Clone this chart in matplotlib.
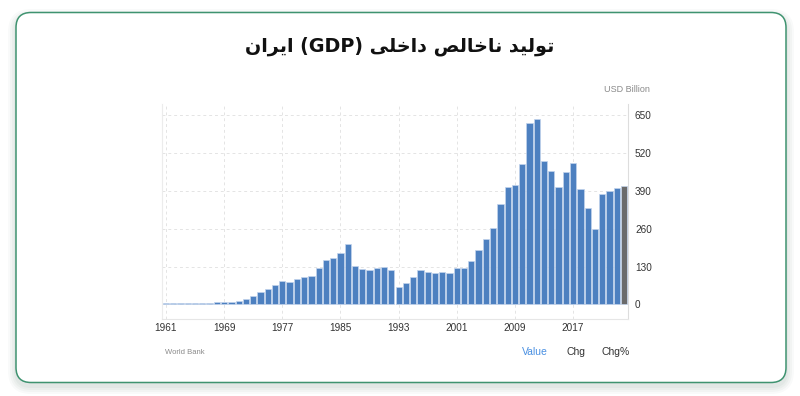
import numpy as np
import matplotlib.pyplot as plt
from matplotlib.patches import FancyBboxPatch

# Iran GDP, USD billion (World Bank), last bar is forecast
years = list(range(1961, 2025))
gdp = [5, 5, 5, 5, 6, 6, 6, 7, 10, 10,
       13, 17, 28, 44, 52, 67, 79, 77, 87, 93,
       97, 124, 152, 160, 178, 206, 131, 121, 118, 124,
       128, 118, 61, 72, 93, 118, 111, 109, 111, 109,
       126, 126, 148, 186, 225, 263, 345, 402, 410, 481,
       624, 638, 493, 458, 404, 454, 484, 395, 330, 259,
       379, 389, 400, 408]
yticks = [0, 130, 260, 390, 520, 650]
xticks = [1961, 1969, 1977, 1985, 1993, 2001, 2009, 2017]

# title "تولید ناخالص داخلی (GDP) ایران" written in shaped, visual order
w_iran = "\uFEE5\uFE8D\uFEAE\uFEF3\uFE8D"
w_dakheli = "\uFEF0\uFEE0\uFEA7\uFE8D\uFEA9"
w_nakhales = "\uFEBA\uFEDF\uFE8E\uFEA7\uFE8E\uFEE7"
w_tolid = "\uFEAA\uFEF4\uFEDF\uFEEE\uFE97"
title = w_iran + " (GDP) " + w_dakheli + " " + w_nakhales + " " + w_tolid

fig = plt.figure(figsize=(8, 3.96), dpi=100)

# card background, in pixel coordinates
bg = fig.add_axes([0, 0, 1, 1])
bg.set_xlim(0, 800)
bg.set_ylim(396, 0)
bg.axis('off')
for i, a in enumerate([0.025, 0.03, 0.035, 0.04]):
    s = 8 - i * 2
    bg.add_patch(FancyBboxPatch((16 - s, 14 - s + 3), 770 + 2 * s, 369 + 2 * s,
                                boxstyle="round,pad=0,rounding_size=%d" % (15 + s),
                                facecolor='#1f4f3a', edgecolor='none', alpha=a))
bg.add_patch(FancyBboxPatch((16, 12.5), 770, 370,
                            boxstyle="round,pad=0,rounding_size=15",
                            facecolor='white', edgecolor='#3f9370', linewidth=1.1))

bg.text(400, 46, title, ha='center', va='center', fontsize=13.8,
        fontweight='bold', family=['DejaVu Sans'], color='#111111')

bg.text(650, 90, "USD Billion", ha='right', va='center', fontsize=6.5,
        color='#8a8a8a', family='Liberation Sans')
bg.text(165, 352, "World Bank", ha='left', va='center', fontsize=5.5,
        color='#8a8a8a', family='Liberation Sans')
bg.text(535, 352, "Value", ha='center', va='center', fontsize=7.5,
        color='#4a90e2', family='Liberation Sans')
bg.text(576, 352, "Chg", ha='center', va='center', fontsize=7.5,
        color='#333333', family='Liberation Sans')
bg.text(616, 352, "Chg%", ha='center', va='center', fontsize=7.5,
        color='#333333', family='Liberation Sans')

# chart
ax = fig.add_axes([162 / 800, 1 - 319 / 396, (628 - 162) / 800, (319 - 104) / 396])
colors = ['#4d80c0'] * (len(years) - 1) + ['#6b6b6b']
ax.bar(years, gdp, width=0.86, color=colors, edgecolor='#c3d4ec', linewidth=0.5, zorder=3)

ax.set_xlim(1960.45, 2024.55)
ax.set_ylim(-50, 688)
ax.set_xticks(xticks)
ax.set_yticks(yticks)
ax.yaxis.tick_right()
ax.tick_params(axis='both', length=0, labelsize=7.2, labelcolor='#333333')
ax.tick_params(axis='y', pad=5)
ax.tick_params(axis='x', pad=3)
for lbl in ax.get_xticklabels() + ax.get_yticklabels():
    lbl.set_family('Liberation Sans')
ax.grid(True, linestyle=(0, (3, 3)), color='#e4e4e4', linewidth=0.7, zorder=0)
ax.spines['top'].set_visible(False)
ax.spines['left'].set_color('#ececec')
ax.spines['right'].set_color('#dddddd')
ax.spines['bottom'].set_color('#e6e6e6')
for sp in ax.spines.values():
    sp.set_linewidth(0.8)

fig.savefig('out.png', dpi=100)
